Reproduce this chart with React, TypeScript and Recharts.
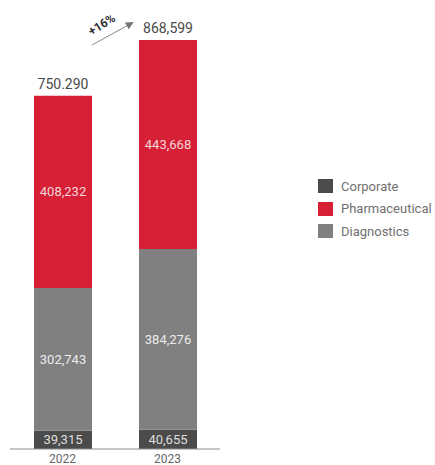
import { BarChart, Bar, XAxis, YAxis, LabelList } from "recharts";

const years = ["2022", "2023"];
const corporate = [39315, 40655];
const diagnostics = [302743, 384276];
const pharmaceutical = [408232, 443668];
const totalLabels = ["750.290", "868,599"];
const growthLabel = "+16%";

const legendItems = [
  { name: "Corporate", color: "#4b4b4b" },
  { name: "Pharmaceutical", color: "#d71f36" },
  { name: "Diagnostics", color: "#808080" },
];

const data = years.map((year, i) => ({
  year,
  corporate: corporate[i],
  diagnostics: diagnostics[i],
  pharmaceutical: pharmaceutical[i],
  total: totalLabels[i],
}));

const fmt = (v: number) => v.toLocaleString("en-US");

function TotalLabel(props: any) {
  const { x, y, width, index } = props;
  const cx = x + width / 2;
  return (
    <g>
      <text x={cx} y={y - 7} textAnchor="middle" fill="#4a4a4a" fontSize={14} fontFamily="Roboto">
        {totalLabels[index]}
      </text>
      {index === 1 && (
        <g>
          <defs>
            <marker id="arrowHead" markerWidth="8" markerHeight="8" refX="6" refY="4" orient="auto" markerUnits="userSpaceOnUse">
              <path d="M0,0 L8,4 L0,8 z" fill="#777" />
            </marker>
          </defs>
          <line x1={x - 47} y1={y + 5} x2={x - 7} y2={y - 17} stroke="#8a8a8a" strokeWidth={1} markerEnd="url(#arrowHead)" />
          <text
            x={x - 35}
            y={y - 12}
            textAnchor="middle"
            fill="#333"
            fontSize={12}
            fontWeight={700}
            fontFamily="Roboto"
            transform={`rotate(-32 ${x - 35} ${y - 12})`}
          >
            {growthLabel}
          </text>
        </g>
      )}
    </g>
  );
}

export default function App() {
  return (
    <div style={{ position: "absolute", left: 0, top: 0, width: 435, height: 465, background: "#fff" }}>
      <BarChart
        width={435}
        height={465}
        data={data}
        margin={{ top: 40, right: 215, left: 10, bottom: 0 }}
        barCategoryGap={0}
      >
        <YAxis hide domain={[0, "dataMax"]} />
        <XAxis
          dataKey="year"
          height={16}
          tickLine={false}
          tickSize={3}
          axisLine={{ stroke: "#8c8c8c" }}
          tick={{ fill: "#666", fontSize: 12, fontFamily: "Roboto" }}
        />
        <Bar dataKey="corporate" stackId="a" fill="#4b4b4b" barSize={58} isAnimationActive={false}>
          <LabelList dataKey="corporate" position="center" fill="#dedede" fontSize={13} fontFamily="Roboto" formatter={(v: any) => fmt(v)} />
        </Bar>
        <Bar dataKey="diagnostics" stackId="a" fill="#808080" barSize={58} isAnimationActive={false}>
          <LabelList dataKey="diagnostics" position="center" fill="#ececec" fontSize={13} fontFamily="Roboto" formatter={(v: any) => fmt(v)} />
        </Bar>
        <Bar dataKey="pharmaceutical" stackId="a" fill="#d71f36" barSize={58} isAnimationActive={false}>
          <LabelList dataKey="pharmaceutical" position="center" fill="#f3d6da" fontSize={13} fontFamily="Roboto" formatter={(v: any) => fmt(v)} />
          <LabelList dataKey="total" content={<TotalLabel />} />
        </Bar>
      </BarChart>
      <div style={{ position: "absolute", left: 318, top: 175, fontFamily: "Roboto", fontSize: 13, color: "#707070" }}>
        {legendItems.map((item) => (
          <div key={item.name} style={{ display: "flex", alignItems: "center", height: 22.5 }}>
            <span style={{ display: "inline-block", width: 15, height: 14, background: item.color, marginRight: 8 }} />
            <span>{item.name}</span>
          </div>
        ))}
      </div>
    </div>
  );
}
